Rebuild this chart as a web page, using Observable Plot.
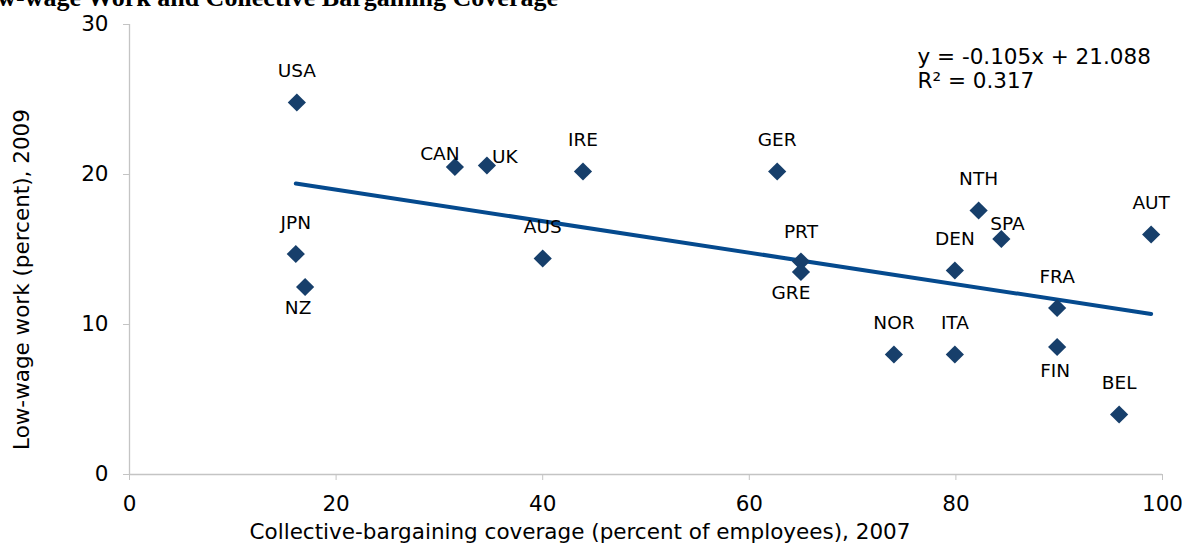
<!DOCTYPE html>
<html>
<head>
<meta charset="utf-8">
<script src="https://cdn.jsdelivr.net/npm/d3@7"></script>
<script src="https://cdn.jsdelivr.net/npm/@observablehq/plot@0.6"></script>
<style>
  html, body { margin: 0; padding: 0; background: #fff; overflow: hidden; }
  #wrap { position: relative; width: 1182px; height: 544px; }
  #title {
    position: absolute; left: -33px; top: -17px; margin: 0;
    font-family: "Liberation Serif", "Times New Roman", serif;
    font-weight: bold; font-size: 26px; line-height: 30px; white-space: nowrap; color: #000;
  }
  #chart svg { display: block; }
</style>
</head>
<body>
<div id="wrap">
  <div id="chart"></div>
  <div id="title">Low-wage Work and Collective Bargaining Coverage</div>
</div>
<script>
// ---- data ----
const countries = ["USA","JPN","NZ","CAN","UK","IRE","AUS","GER","PRT","GRE","NTH","SPA","DEN","AUT","FRA","NOR","ITA","FIN","BEL"];
const coverage  = [16.2, 16.1, 17.0, 31.5, 34.6, 43.9, 40.0, 62.7, 65.0, 65.0, 82.2, 84.4, 79.9, 98.9, 89.8, 74.0, 79.9, 89.8, 95.8];
const lowWage   = [24.8, 14.7, 12.5, 20.5, 20.6, 20.2, 14.4, 20.2, 14.2, 13.5, 17.6, 15.7, 13.6, 16.0, 11.1, 8.0, 8.0, 8.5, 4.0];
const slope = -0.105;
const intercept = 21.088;
const rSquared = 0.317;
const xTicks = [0, 20, 40, 60, 80, 100];
const yTicks = [0, 10, 20, 30];
const xLabel = "Collective-bargaining coverage (percent of employees), 2007";
const yLabel = "Low-wage work (percent), 2009";

// ---- label placement (layout only) ----
const labelOffsets = {
  NZ:  {dx: -7, dy: 21},
  CAN: {dx: -15, dy: -13},
  UK:  {dx: 18, dy: -8},
  PRT: {dx: 0, dy: -29},
  GRE: {dx: -10, dy: 21},
  SPA: {dx: 6, dy: -15},
  FIN: {dx: -2, dy: 24}
};
const defaultOffset = {dx: 0, dy: -31};

const data = countries.map((c, i) => ({country: c, x: coverage[i], y: lowWage[i]}));
const xMin = d3.min(coverage), xMax = d3.max(coverage);
const trend = [xMin, xMax].map(x => ({x, y: slope * x + intercept}));
const eq = `y = ${slope.toFixed(3)}x + ${intercept.toFixed(3)}`;
const r2 = `R² = ${rSquared.toFixed(3)}`;

const font = "Verdana, 'DejaVu Sans', sans-serif";
const fsLabel = 18.5;
const fsAxis = 21.5;
const axisGray = "#c4c4c4";

const labelMarks = data.map(d => {
  const o = labelOffsets[d.country] || defaultOffset;
  return Plot.text([d], {x: "x", y: "y", text: "country", dx: o.dx, dy: o.dy, fontSize: fsLabel, fill: "#000"});
});

const chart = Plot.plot({
  width: 1182,
  height: 544,
  marginLeft: 129,
  marginRight: 20,
  marginTop: 24,
  marginBottom: 70,
  x: {domain: [0, 100]},
  y: {domain: [0, 30]},
  style: {fontFamily: font, fontSize: fsAxis + "px", color: "#000", background: "#fff"},
  marks: [
    Plot.ruleX([0], {stroke: axisGray, strokeWidth: 1.3}),
    Plot.ruleY([0], {stroke: axisGray, strokeWidth: 1.3}),
    Plot.axisY({ticks: yTicks, tickSize: 6, tickPadding: 15, label: null, stroke: axisGray, fill: "#000", fontSize: fsAxis}),
    Plot.axisX({ticks: xTicks, tickSize: 6, tickPadding: 15, label: null, stroke: axisGray, fill: "#000", fontSize: fsAxis}),
    Plot.line(trend, {x: "x", y: "y", stroke: "#054a8e", strokeWidth: 4}),
    Plot.dot(data, {x: "x", y: "y", symbol: "diamond2", r: 8.2, fill: "#173f6b", stroke: "none"}),
    ...labelMarks,
    Plot.text([eq], {frameAnchor: "top-right", textAnchor: "start", lineAnchor: "middle", dx: -245, dy: 33, fontSize: fsAxis, fill: "#000"}),
    Plot.text([r2], {frameAnchor: "top-right", textAnchor: "start", lineAnchor: "middle", dx: -245, dy: 57, fontSize: fsAxis, fill: "#000"}),
    Plot.text([xLabel], {frameAnchor: "bottom", textAnchor: "middle", lineAnchor: "middle", dx: -66, dy: 58, fontSize: fsAxis, fill: "#000"}),
    Plot.text([yLabel], {frameAnchor: "left", textAnchor: "middle", lineAnchor: "middle", rotate: -90, dx: -107, dy: 30, fontSize: fsAxis, fill: "#000"})
  ]
});
document.getElementById("chart").appendChild(chart);
</script>
</body>
</html>
